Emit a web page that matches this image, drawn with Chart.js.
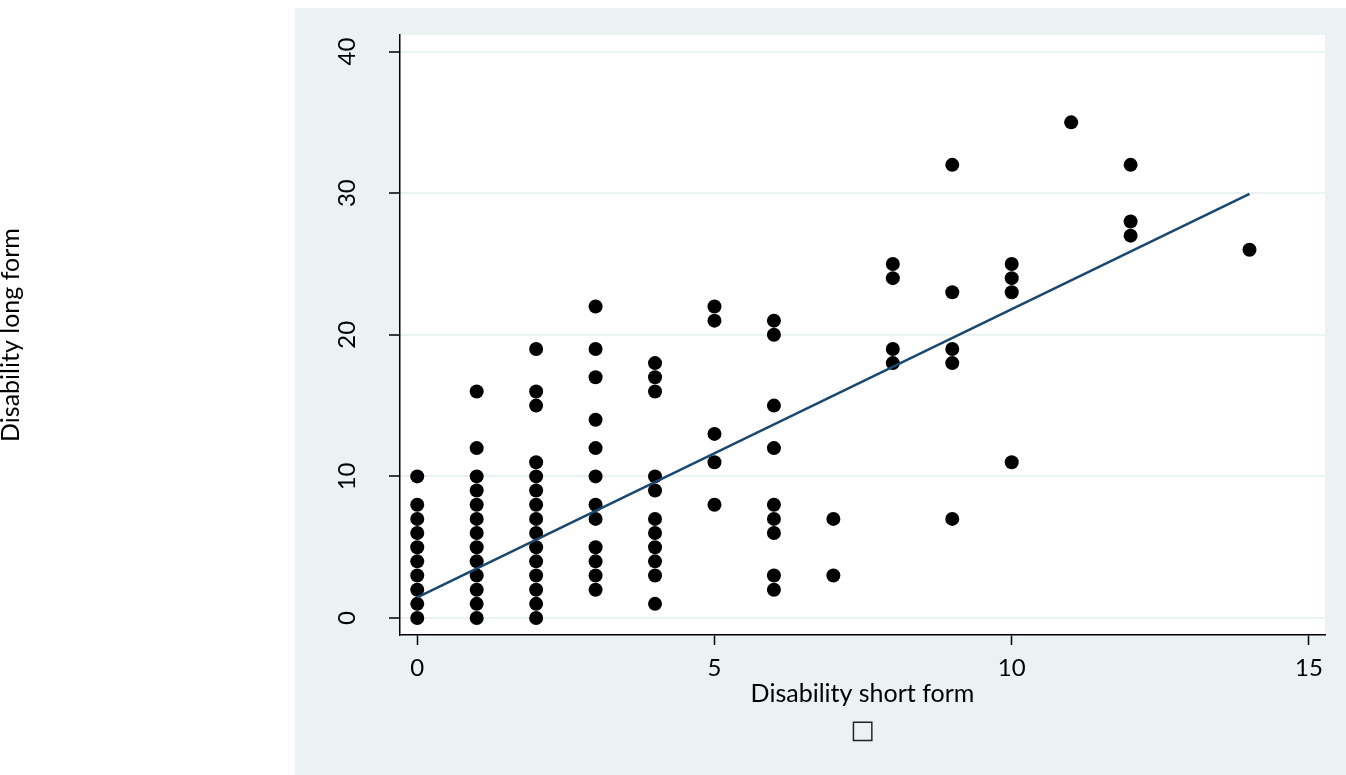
<!DOCTYPE html>
<html>
<head>
<meta charset="utf-8">
<script src="https://cdn.jsdelivr.net/npm/chart.js@4"></script>
<style>
  html, body { margin: 0; padding: 0; background: #fff; }
  #wrap { width: 1346px; height: 775px; position: relative; }
</style>
</head>
<body>
<div id="wrap"><canvas id="chart"></canvas></div>
<script>
// one entry per visible marker, grouped by short form score
const shortForm = [
  0, 0, 0, 0, 0, 0, 0, 0, 0, 0,
  1, 1, 1, 1, 1, 1, 1, 1, 1, 1, 1, 1, 1,
  2, 2, 2, 2, 2, 2, 2, 2, 2, 2, 2, 2, 2, 2, 2,
  3, 3, 3, 3, 3, 3, 3, 3, 3, 3, 3, 3,
  4, 4, 4, 4, 4, 4, 4, 4, 4, 4, 4,
  5, 5, 5, 5, 5,
  6, 6, 6, 6, 6, 6, 6, 6, 6,
  7, 7,
  8, 8, 8, 8,
  9, 9, 9, 9, 9,
  10, 10, 10, 10,
  11,
  12, 12, 12,
  14
]
const longForm = [
  10, 8, 7, 6, 5, 4, 3, 2, 1, 0,
  16, 12, 10, 9, 8, 7, 6, 5, 4, 3, 2, 1, 0,
  19, 16, 15, 11, 10, 9, 8, 7, 6, 5, 4, 3, 2, 1, 0,
  22, 19, 17, 14, 12, 10, 8, 7, 5, 4, 3, 2,
  18, 17, 16, 10, 9, 7, 6, 5, 4, 3, 1,
  22, 21, 13, 11, 8,
  21, 20, 15, 12, 8, 7, 6, 3, 2,
  7, 3,
  25, 24, 19, 18,
  32, 23, 19, 18, 7,
  25, 24, 23, 11,
  35,
  32, 28, 27,
  26
]

// fitted line, read at its two ends
const fitX = [0, 14]
const fitY = [1.45, 29.95]

const xTicks = [0, 5, 10, 15]
const yTicks = [0, 10, 20, 30, 40]

const BG = '#EAF2F3'
const NAVY = '#1A476F'

const plotBackground = {
  id: 'plotBackground',
  beforeDraw(chart) {
    const {ctx, chartArea} = chart
    ctx.save()
    ctx.fillStyle = BG
    ctx.fillRect(295, 8, chart.width - 295, chart.height - 8)
    ctx.fillStyle = '#ffffff'
    ctx.fillRect(chartArea.left, chartArea.top, chartArea.right - chartArea.left, chartArea.bottom - chartArea.top)
    ctx.restore()
  }
}

// keep the tick labels from pushing the plot area around
const noLabelPadding = (scale) => {
  scale.paddingTop = 0
  scale.paddingBottom = 0
  scale.paddingLeft = 0
  scale.paddingRight = 0
}

const points = shortForm.map((x, i) => ({x: x, y: longForm[i]}))
const fitLine = fitX.map((x, i) => ({x: x, y: fitY[i]}))

new Chart(document.getElementById('chart'), {
  type: 'scatter',
  data: {
    datasets: [
      {
        data: fitLine,
        showLine: true,
        borderColor: NAVY,
        borderWidth: 2.5,
        pointRadius: 0,
        order: 0
      },
      {
        data: points,
        backgroundColor: '#000',
        borderWidth: 0,
        pointRadius: 7,
        pointHoverRadius: 7,
        order: 1
      }
    ]
  },
  options: {
    responsive: true,
    maintainAspectRatio: false,
    animation: false,
    events: [],
    layout: {
      padding: {top: 35, right: 21, bottom: 0, left: 0}
    },
    plugins: {
      legend: {display: false},
      tooltip: {enabled: false},
      subtitle: {
        display: true,
        text: '□',
        position: 'bottom',
        fullSize: false,
        color: '#222',
        font: {family: 'DejaVu Sans', size: 26, lineHeight: 1},
        padding: {top: 12, bottom: 31}
      }
    },
    scales: {
      x: {
        type: 'linear',
        min: -0.29,
        max: 15.27,
        afterBuildTicks: (scale) => {
          scale.ticks = xTicks.map((v) => ({value: v}))
        },
        afterFit: (scale) => {
          scale.height = 71
          noLabelPadding(scale)
        },
        grid: {
          drawOnChartArea: false,
          drawTicks: true,
          tickLength: 10,
          tickColor: '#000',
          tickWidth: 1.5
        },
        border: {color: '#000', width: 1.5},
        ticks: {
          padding: 9,
          color: '#000',
          font: {family: 'Lato', size: 24}
        },
        title: {
          display: true,
          text: 'Disability short form',
          color: '#000',
          font: {family: 'Lato', size: 25, lineHeight: 1},
          padding: {top: 0, bottom: 0}
        }
      },
      y: {
        type: 'linear',
        min: -1.2,
        max: 41.17,
        afterBuildTicks: (scale) => {
          scale.ticks = yTicks.map((v) => ({value: v}))
        },
        afterFit: (scale) => {
          scale.width = 400
          noLabelPadding(scale)
        },
        grid: {
          color: BG,
          lineWidth: 2,
          drawTicks: true,
          tickLength: 11,
          tickColor: '#000',
          tickWidth: 1.5
        },
        border: {color: '#000', width: 1.5},
        ticks: {
          minRotation: 90,
          maxRotation: 90,
          crossAlign: 'center',
          padding: 28,
          color: '#000',
          font: {family: 'Lato', size: 24}
        },
        title: {
          display: true,
          text: 'Disability long form',
          color: '#000',
          font: {family: 'Lato', size: 25, lineHeight: 1},
          padding: {top: -1.5, bottom: 0}
        }
      }
    }
  },
  plugins: [plotBackground]
})
</script>
</body>
</html>
